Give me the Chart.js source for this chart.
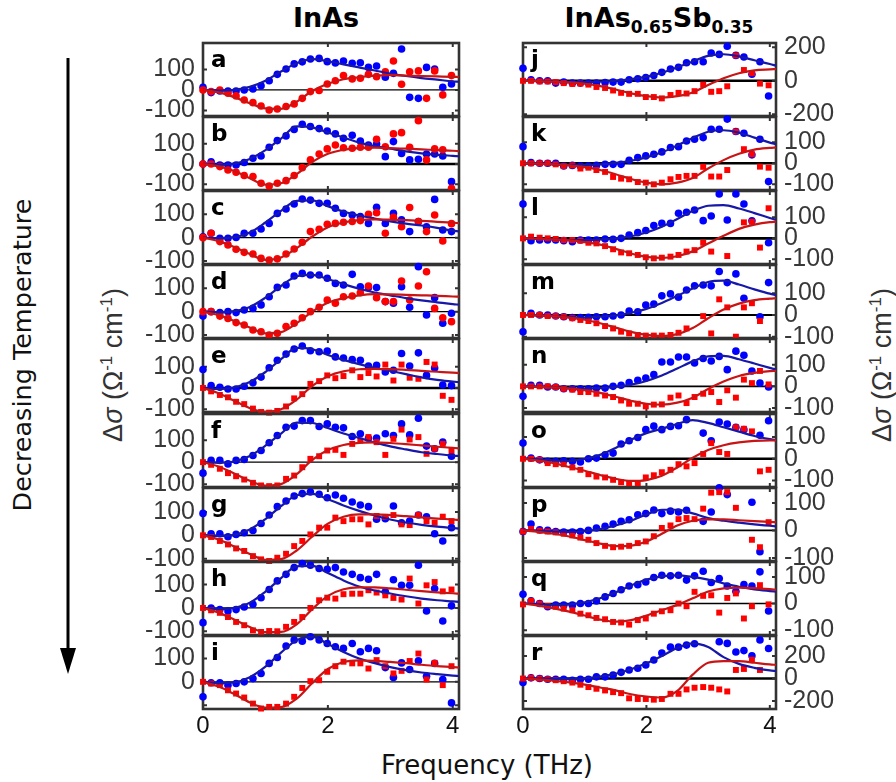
<!DOCTYPE html>
<html>
<head>
<meta charset="utf-8">
<script src="https://cdn.jsdelivr.net/npm/chart.js@4.4.1/dist/chart.umd.min.js"></script>
<style>
  html, body { margin:0; padding:0; background:#fff; }
  body { width:896px; height:782px; position:relative; overflow:hidden; }
  canvas { position:absolute; }
  .t { position:absolute; white-space:nowrap; line-height:1; }
  .letter { position:absolute; font-family:"DejaVu Sans"; font-weight:bold; font-size:23px; line-height:24px; color:#000; }
</style>
</head>
<body>
<svg style="position:absolute;left:0;top:0" width="896" height="782">
  <line x1="68" y1="58" x2="68" y2="652" stroke="#000" stroke-width="3"/>
  <polygon points="60,648 76,648 68,674" fill="#000"/>
</svg>
<div class="t" style="left:326px; top:17px; transform:translate(-50%,-50%); font:bold 27px 'DejaVu Sans'; color:#000;">InAs</div>
<div class="t" style="left:659px; top:17px; transform:translate(-50%,-50%); font:bold 27px 'DejaVu Sans'; color:#000;">InAs<span style="font-size:17px; position:relative; top:6px;">0.65</span>Sb<span style="font-size:17px; position:relative; top:6px;">0.35</span></div>
<div class="t" style="left:22px; top:355px; transform:translate(-50%,-50%) rotate(-90deg); font:25.5px 'DejaVu Sans'; color:#111;">Decreasing Temperature</div>
<div class="t" style="left:113px; top:365px; transform:translate(-50%,-50%) rotate(-90deg); font:27px 'Liberation Sans'; color:#333;">&Delta;<i>&sigma;</i> (&Omega;<sup style="font-size:17px">-1</sup> cm<sup style="font-size:17px">-1</sup>)</div>
<div class="t" style="left:882px; top:365px; transform:translate(-50%,-50%) rotate(-90deg); font:27px 'Liberation Sans'; color:#333;">&Delta;<i>&sigma;</i> (&Omega;<sup style="font-size:17px">-1</sup> cm<sup style="font-size:17px">-1</sup>)</div>
<div class="t" style="left:487px; top:765px; transform:translate(-50%,-50%); font:26px 'DejaVu Sans'; color:#111;">Frequency (THz)</div>

<script>
// ---------------- DATA ----------------
const freq = [0, 0.13, 0.27, 0.4, 0.53, 0.66, 0.8, 0.93, 1.06, 1.19, 1.33, 1.46, 1.59, 1.72, 1.86, 1.99, 2.12, 2.25, 2.39, 2.52, 2.65, 2.78, 2.92, 3.05, 3.18, 3.31, 3.45, 3.58, 3.71, 3.84, 3.98];
const fitFreq = [0, 0.25, 0.5, 0.75, 1, 1.25, 1.5, 1.75, 2, 2.25, 2.5, 2.75, 3, 3.25, 3.5, 3.75, 4, 4.1];
const xTicks = [0, 2, 4];
const ticks100 = [-100, 0, 100];
const ticks200 = [-200, 0, 200];
const panelLetters = ['a','b','c','d','e','f','g','h','i','j','k','l','m','n','o','p','q','r'];

// InAs
const a_blue = [13, -13, -5, -5, -5, 0, 5, 20, 45, 76, 102, 127, 137, 151, 154, 138, 132, 141, 130, 133, 110, 117, 62, 81, 200, -36, -41, 110, 102, 13, 29];
const a_red = [0, -8, 0, -16, -29, -49, -62, -78, -98, -93, -81, -68, -41, -8, -3, 29, 45, 70, 54, 57, 76, 65, 89, 141, 28, 89, 93, -41, 93, -24, 70];
const a_blueFit = [0, -3, 0, 15, 45, 90, 130, 150, 140, 125, 110, 95, 80, 68, 58, 50, 42, 40];
const a_redFit = [0, -12, -35, -65, -90, -92, -57, -5, 30, 52, 62, 70, 72, 70, 68, 66, 64, 63];

const b_blue = [0, 11, -5, -5, -5, 7, 28, 39, 82, 115, 138, 170, 195, 184, 174, 162, 148, 126, 141, 113, 93, 98, 36, 110, 52, 20, 23, 49, 49, 39, -87];
const b_red = [0, 0, -13, -30, -41, -57, -62, -95, -108, -95, -82, -57, -18, 20, 49, 74, 93, 80, 77, 82, 82, 121, 85, 148, 154, 82, 213, 20, 74, 70, -120];
const b_blueFit = [0, -3, 2, 25, 68, 125, 185, 180, 155, 130, 105, 88, 75, 62, 52, 45, 40, 38];
const b_redFit = [0, -12, -35, -70, -102, -95, -50, 10, 50, 70, 78, 80, 78, 75, 72, 68, 65, 63];

const c_blue = [4, 19, -3, -3, 1, 19, 19, 37, 61, 104, 123, 144, 166, 161, 147, 147, 126, 104, 97, 90, 61, 130, 61, 104, 76, 26, 69, 47, 164, 33, 26];
const c_red = [0, 19, -17, -31, -50, -63, -70, -89, -96, -91, -70, -49, -20, 26, 36, 57, 61, 66, 69, 73, 100, 107, 19, 87, 47, 129, 69, 26, 97, -14, 60];
const c_blueFit = [0, -3, 2, 22, 65, 115, 158, 160, 135, 112, 95, 82, 70, 60, 52, 42, 30, 27];
const c_redFit = [0, -15, -40, -70, -95, -85, -45, 5, 45, 65, 75, 78, 77, 75, 72, 68, 64, 62];

const d_blue = [-19, 0, -4, 0, -4, 7, 14, 29, 64, 104, 114, 153, 164, 157, 157, 143, 121, 114, 160, 107, 104, 103, 43, 36, 107, 19, 193, -14, 60, -50, -7];
const d_red = [0, 0, -19, -29, -47, -57, -79, -86, -100, -93, -64, -50, -26, 0, 19, 50, 36, 64, 67, 81, 110, 60, 43, 43, 131, 50, 110, 171, 14, -26, -43];
const d_blueFit = [0, -3, 2, 20, 60, 110, 152, 158, 140, 118, 98, 82, 70, 58, 48, 40, 32, 30];
const d_redFit = [0, -15, -40, -68, -93, -88, -50, 0, 38, 58, 70, 75, 74, 72, 70, 68, 65, 64];

const e_blue = [87, 11, 3, -5, -5, 8, 24, 51, 95, 130, 159, 183, 197, 175, 170, 173, 146, 141, 133, 130, 103, 106, 75, 83, 162, 103, 165, 59, 94, 14, 11];
const e_red = [0, -16, -33, -44, -65, -76, -97, -113, -116, -108, -87, -49, -29, 19, 32, 59, 46, 56, 83, 51, 70, 54, 110, 35, 110, 48, 43, 122, 110, -37, -56];
const e_blueFit = [0, -5, 2, 28, 75, 135, 188, 182, 155, 132, 112, 95, 80, 65, 50, 38, 30, 27];
const e_redFit = [0, -25, -60, -95, -112, -100, -55, 10, 55, 78, 88, 90, 88, 85, 80, 76, 72, 70];

const f_blue = [-50, 8, 8, -8, 8, 12, 30, 53, 88, 121, 159, 164, 189, 189, 162, 174, 159, 156, 117, 129, 109, 110, 129, 121, 174, 124, 200, 73, 61, 91, 27];
const f_red = [0, -12, -30, -50, -64, -79, -94, -106, -109, -106, -76, -61, -23, 15, 27, 53, 56, 33, 83, 98, 114, 91, 33, 106, 148, 103, 114, 38, 61, 83, 53];
const f_blueFit = [0, -3, 3, 28, 75, 130, 180, 178, 155, 130, 110, 90, 72, 58, 45, 37, 30, 28];
const f_redFit = [0, -20, -52, -85, -107, -100, -55, 10, 55, 78, 88, 90, 87, 82, 76, 70, 65, 63];

const g_blue = [94, 7, 7, -6, 4, 11, 21, 51, 87, 123, 147, 169, 179, 186, 176, 161, 173, 159, 143, 130, 123, 69, 71, 126, 54, 61, 87, 80, 7, -24, 33];
const g_red = [0, -7, -24, -39, -56, -67, -89, -103, -110, -96, -79, -46, -24, 4, 33, 33, 76, 61, 69, 69, 47, 83, 79, 87, 47, 44, 87, 61, 54, 80, 61];
const g_blueFit = [0, -3, 2, 25, 70, 125, 172, 178, 155, 128, 105, 85, 68, 55, 45, 37, 31, 29];
const g_redFit = [0, -18, -48, -80, -105, -102, -65, -5, 50, 80, 90, 90, 87, 82, 77, 72, 68, 66];

const h_blue = [-63, 0, -7, -13, -7, 4, 16, 44, 79, 116, 144, 173, 190, 183, 169, 166, 173, 154, 144, 130, 123, 144, 69, 121, 97, 97, 183, -13, 83, -56, 9];
const h_red = [0, -10, -21, -39, -60, -74, -96, -103, -99, -100, -81, -60, -39, 0, 33, 44, 40, 59, 61, 61, 76, 66, 54, 43, 36, 126, 19, 97, 111, 71, 79];
const h_blueFit = [0, -5, 0, 22, 70, 128, 178, 180, 150, 118, 92, 75, 62, 50, 40, 33, 28, 26];
const h_redFit = [0, -20, -50, -82, -104, -103, -70, -5, 52, 80, 88, 88, 84, 78, 72, 67, 63, 61];

const i_blue = [-64, -4, -4, -14, -7, 0, 14, 36, 79, 104, 153, 179, 174, 193, 179, 164, 150, 143, 164, 129, 143, 133, 61, 19, 81, 53, 90, 24, 79, 10, -90];
const i_red = [0, -7, -14, -36, -50, -67, -93, -114, -107, -107, -93, -64, -26, 3, 7, 43, 67, 86, 79, 79, 57, 93, 67, 36, 47, 89, 121, 10, 81, -14, 67];
const i_blueFit = [0, -5, -2, 20, 65, 125, 178, 192, 162, 128, 100, 80, 63, 50, 40, 33, 27, 25];
const i_redFit = [0, -20, -52, -88, -110, -108, -72, -5, 55, 85, 92, 90, 85, 80, 73, 67, 63, 61];

// InAs0.65Sb0.35
const j_blue = [74, 6, 0, 0, -14, -8, -14, -14, -14, -14, -10, -8, -8, 6, 12, 19, 31, 50, 70, 80, 107, 113, 113, 165, 157, 206, 151, 142, 39, 113, -91];
const j_red = [0, 0, -4, -4, -8, -14, -19, -17, -23, -37, -43, -58, -72, -78, -78, -97, -97, -105, -85, -72, -76, -62, -23, -66, -62, -33, 151, 64, 45, -17, -27];
const j_blueFit = [0, -2, -5, -8, -8, -5, 0, 10, 25, 48, 80, 115, 148, 158, 145, 122, 100, 90];
const j_redFit = [0, -2, -5, -10, -18, -32, -52, -75, -92, -100, -92, -70, -25, 15, 45, 62, 68, 70];

const k_blue = [79, 3, 0, 0, 0, -13, -10, -13, -13, -10, -5, -5, -5, 14, 27, 35, 43, 54, 75, 79, 106, 114, 122, 162, 162, 210, 151, 143, 40, 114, -87];
const k_red = [0, 0, 0, 0, -5, -13, -10, -25, -21, -32, -41, -65, -73, -76, -89, -92, -100, -92, -76, -65, -60, -60, -17, -63, -63, -32, 151, 67, 43, -16, -21];
const k_blueFit = [0, -2, -5, -8, -8, -5, 2, 12, 28, 52, 85, 120, 150, 157, 145, 122, 98, 90];
const k_redFit = [0, -2, -5, -10, -18, -32, -52, -75, -92, -100, -92, -70, -25, 15, 45, 65, 73, 75];

const l_blue = [163, -11, -8, -8, -8, -11, -16, -8, -8, -8, -3, -5, 0, 16, 27, 37, 61, 71, 71, 119, 124, 135, 84, 106, 211, 87, 211, 163, 83, null, -21];
const l_red = [0, 8, 3, 0, -3, -8, -8, -11, -21, -24, -37, -52, -67, -71, -79, -90, -95, -92, -87, -79, -63, -56, -21, -63, null, -84, null, 76, 79, -44, 143];
const l_blueFit = [0, -2, -5, -8, -8, -5, 0, 10, 28, 55, 92, 130, 155, 158, 142, 120, 97, 88];
const l_redFit = [0, -2, -5, -10, -18, -30, -50, -72, -88, -93, -85, -62, -25, 12, 45, 65, 77, 79];

const m_blue = [-77, 8, 0, 0, -5, -8, -12, -12, -11, -8, -8, -5, 0, 18, 15, 46, 50, 88, 97, 82, 115, 134, 138, 134, 200, 149, 189, 77, null, -8, 149];
const m_red = [0, 0, 0, -5, -5, -8, -15, -23, -28, -38, -51, -62, -77, -85, -92, -95, -95, -95, -92, -82, -62, null, -5, -85, 72, 35, -100, 35, 54, -28, null];
const m_blueFit = [0, -3, -6, -10, -12, -8, -2, 10, 28, 55, 88, 122, 152, 158, 140, 118, 98, 92];
const m_redFit = [0, -2, -6, -12, -22, -38, -58, -78, -92, -97, -88, -60, -15, 25, 52, 68, 75, 77];

const n_blue = [-46, 5, 5, -3, -3, -11, -11, -11, -11, -8, -8, 0, 5, 17, 28, 38, 54, 112, 112, 135, 135, 108, 128, 117, 138, 77, 162, 143, 71, 15, -3];
const n_red = [0, 0, 0, 0, -3, -11, -15, -26, -26, -34, -42, -49, -65, -80, -80, -92, -84, -83, -52, -42, -77, -49, -34, -26, -72, -18, -52, 31, 15, 71, 9];
const n_blueFit = [0, -2, -5, -8, -10, -8, -3, 8, 25, 50, 82, 115, 138, 140, 125, 105, 85, 77];
const n_redFit = [0, -2, -5, -10, -18, -30, -48, -66, -80, -84, -75, -52, -12, 22, 48, 62, 70, 71];

const o_blue = [72, 3, -5, -12, -12, -9, -12, -15, 0, 3, 18, 26, 68, 83, 98, 134, 150, 134, 149, 152, 180, null, 118, 83, 169, 160, 145, 134, null, 108, 175];
const o_red = [0, 0, -5, -20, -25, -25, -40, -51, -71, -82, -86, -97, -108, -112, -112, -86, -76, -62, -51, -25, -35, -20, 22, 72, 31, 22, 145, 138, 126, -58, -51];
const o_blueFit = [0, -3, -8, -10, 0, 18, 50, 88, 118, 138, 160, 178, 165, 145, 125, 105, 90, 85];
const o_redFit = [0, -8, -20, -38, -55, -75, -92, -102, -98, -78, -40, 5, 40, 62, 75, 82, 85, 85];

const p_blue = [-4, 23, 2, 0, -4, -6, -6, -4, 0, 9, 15, 23, 33, 39, 57, 61, 74, 61, 70, 67, 73, null, 33, 67, 155, 130, null, null, 102, -77, null];
const p_red = [-4, 5, -1, -4, -7, -12, -18, -26, -34, -46, -56, -61, -59, -56, -46, -40, -21, 9, 18, 41, 45, 41, 79, 137, 139, 139, 82, null, -34, -61, 30];
const p_blueFit = [0, -2, -4, -5, -3, 5, 18, 35, 58, 75, 75, 62, 45, 35, 28, 22, 17, 15];
const p_redFit = [0, -5, -12, -22, -35, -48, -57, -55, -40, -12, 18, 35, 40, 40, 37, 34, 31, 30];

const q_blue = [35, 10, 0, -12, -6, -6, -6, 0, 0, 10, 25, 38, 52, 66, 71, 81, 98, 106, 104, 106, 88, 104, 121, 79, 94, 66, 46, 71, 66, 119, -28];
const q_red = [-3, 10, 0, -9, -12, -19, -25, -38, -44, -54, -59, -69, -71, -79, -62, -56, -38, -29, -25, 0, -10, 44, 29, 31, -34, 21, 38, -56, -10, 69, -3];
const q_blueFit = [0, -3, -5, -3, 5, 20, 42, 68, 90, 102, 106, 100, 90, 76, 63, 53, 47, 45];
const q_redFit = [0, -8, -18, -30, -45, -60, -68, -62, -45, -25, -5, 20, 45, 57, 60, 58, 54, 52];

const r_blue = [-36, 6, 0, -6, -6, -6, -15, -6, -6, 15, 15, 30, 55, 76, 91, 121, 164, 227, 279, 279, 297, 309, null, null, 327, 312, 236, 248, 203, 342, 267];
const r_red = [0, 6, 0, -6, -15, -24, -36, -55, -76, -91, -106, -121, -130, -176, -182, -182, -188, -182, -136, -136, -97, -82, -76, -82, -97, -115, 76, 85, 167, 76, null];
const r_blueFit = [0, 0, -3, -4, 0, 18, 42, 82, 135, 200, 272, 312, 280, 190, 130, 95, 72, 67];
const r_redFit = [0, -8, -20, -35, -55, -80, -105, -140, -160, -170, -110, 35, 140, 155, 155, 140, 125, 121];

const series = {
  a:[a_blue,a_red,a_blueFit,a_redFit], b:[b_blue,b_red,b_blueFit,b_redFit], c:[c_blue,c_red,c_blueFit,c_redFit],
  d:[d_blue,d_red,d_blueFit,d_redFit], e:[e_blue,e_red,e_blueFit,e_redFit], f:[f_blue,f_red,f_blueFit,f_redFit],
  g:[g_blue,g_red,g_blueFit,g_redFit], h:[h_blue,h_red,h_blueFit,h_redFit], i:[i_blue,i_red,i_blueFit,i_redFit],
  j:[j_blue,j_red,j_blueFit,j_redFit], k:[k_blue,k_red,k_blueFit,k_redFit], l:[l_blue,l_red,l_blueFit,l_redFit],
  m:[m_blue,m_red,m_blueFit,m_redFit], n:[n_blue,n_red,n_blueFit,n_redFit], o:[o_blue,o_red,o_blueFit,o_redFit],
  p:[p_blue,p_red,p_blueFit,p_redFit], q:[q_blue,q_red,q_blueFit,q_redFit], r:[r_blue,r_red,r_blueFit,r_redFit]
};

// ---------------- LAYOUT ----------------
const axisCfg = {
  a:{yMin:-127,yMax:229,ticks:ticks100,zero:1.3,shape:'circle'},
  b:{yMin:-128,yMax:231,ticks:ticks100,zero:2.6,shape:'circle'},
  c:{yMin:-113,yMax:200,ticks:ticks100,zero:1.3,shape:'circle'},
  d:{yMin:-113,yMax:200,ticks:ticks100,zero:1.3,shape:'circle'},
  e:{yMin:-113,yMax:230,ticks:ticks100,zero:2.6,shape:'rect'},
  f:{yMin:-113,yMax:219,ticks:ticks100,zero:1.3,shape:'rect'},
  g:{yMin:-110,yMax:203,ticks:ticks100,zero:1.8,shape:'rect'},
  h:{yMin:-116,yMax:197,ticks:ticks100,zero:1.3,shape:'rect'},
  i:{yMin:-116,yMax:196,ticks:ticks100,zero:1.3,shape:'rect',hideNeg:true},
  j:{yMin:-210,yMax:225,ticks:ticks200,zero:2.6,shape:'rect'},
  k:{yMin:-127,yMax:220,ticks:ticks100,zero:2.6,shape:'rect'},
  l:{yMin:-122,yMax:225,ticks:ticks100,zero:2.6,shape:'rect'},
  m:{yMin:-106,yMax:230,ticks:ticks100,zero:2.0,shape:'rect'},
  n:{yMin:-118,yMax:218,ticks:ticks100,zero:1.6,shape:'rect'},
  o:{yMin:-130,yMax:206,ticks:ticks100,zero:2.6,shape:'rect'},
  p:{yMin:-111,yMax:154,ticks:ticks100,zero:1.6,shape:'rect'},
  q:{yMin:-118,yMax:156,ticks:ticks100,zero:1.6,shape:'rect'},
  r:{yMin:-271,yMax:378,ticks:ticks200,zero:2.6,shape:'rect'}
};

const LEFT_X0 = 203, LEFT_X1 = 459, RIGHT_X0 = 523, RIGHT_X1 = 776;
const TOP0 = 43, STEP = 74.1, PH = 73;
const AXW = 74, PAD = 30, SIDE = 14, XAH = 34;
const TICKFONT = {family:'Liberation Sans', size:25};

const framePlugin = {
  id: 'frame',
  beforeDatasetsDraw(chart) {
    const o = chart.options.plugins.frame;
    const {ctx, chartArea: ar, scales} = chart;
    const x = scales.x, y = scales.y;
    ctx.save();
    const y0 = y.getPixelForValue(0);
    ctx.strokeStyle = '#000';
    ctx.lineWidth = o.zero;
    ctx.beginPath(); ctx.moveTo(ar.left, y0); ctx.lineTo(ar.right, y0); ctx.stroke();
    ctx.strokeStyle = '#333';
    ctx.lineWidth = 2;
    ctx.beginPath();
    for (const v of o.yTicks) {
      const py = y.getPixelForValue(v);
      ctx.moveTo(ar.left, py); ctx.lineTo(ar.left + 4, py);
      ctx.moveTo(ar.right, py); ctx.lineTo(ar.right - 4, py);
    }
    for (const v of xTicks) {
      const px = x.getPixelForValue(v);
      ctx.moveTo(px, ar.top); ctx.lineTo(px, ar.top + 4);
      ctx.moveTo(px, ar.bottom); ctx.lineTo(px, ar.bottom - 4);
    }
    ctx.stroke();
    ctx.lineWidth = 2.6;
    ctx.strokeStyle = '#333';
    ctx.strokeRect(ar.left, ar.top, ar.right - ar.left, ar.bottom - ar.top);
    ctx.restore();
  }
};

function pts(xs, ys) { return xs.map((x, i) => ({x: x, y: ys[i]})); }

panelLetters.forEach((L, idx) => {
  const isLeft = idx < 9;
  const row = isLeft ? idx : idx - 9;
  const cfg = axisCfg[L];
  const [blue, red, blueFit, redFit] = series[L];
  const top = Math.round(TOP0 + STEP * row);
  const x0 = isLeft ? LEFT_X0 : RIGHT_X0, x1 = isLeft ? LEFT_X1 : RIGHT_X1;
  const bottomAxis = row === 8;
  const cw = AXW + (x1 - x0) + SIDE;
  const ch = PAD + PH + (bottomAxis ? XAH : 0) + PAD;
  const cl = isLeft ? x0 - AXW : x0 - SIDE;
  const ct = top - PAD;

  const cv = document.createElement('canvas');
  cv.width = cw; cv.height = ch;
  cv.style.left = cl + 'px'; cv.style.top = ct + 'px';
  cv.style.width = cw + 'px'; cv.style.height = ch + 'px';
  document.body.appendChild(cv);

  const letter = document.createElement('div');
  letter.className = 'letter';
  letter.textContent = L;
  letter.style.left = (x0 + 8) + 'px';
  letter.style.top = (top + 4) + 'px';
  document.body.appendChild(letter);

  const xScale = {
    type: 'linear', min: 0, max: 4.1,
    display: bottomAxis,
    grid: {display:false, drawTicks:false},
    border: {display:false},
    ticks: {font: {family:'Liberation Sans', size:24}, color:'#111', padding: 3, maxRotation: 0},
    afterBuildTicks: s => { s.ticks = xTicks.map(v => ({value: v})); }
  };
  if (bottomAxis) xScale.afterFit = s => { s.height = XAH; };

  new Chart(cv, {
    type: 'scatter',
    data: {
      datasets: [
        {data: pts(fitFreq, redFit), showLine: true, borderColor: '#c81414', borderWidth: 2.2, pointRadius: 0, cubicInterpolationMode: 'monotone', clip: false},
        {data: pts(fitFreq, blueFit), showLine: true, borderColor: '#1717a8', borderWidth: 2.2, pointRadius: 0, cubicInterpolationMode: 'monotone', clip: false},
        {data: pts(freq, red), pointStyle: cfg.shape, pointRadius: cfg.shape === 'rect' ? 4.2 : 3.8, backgroundColor: '#ff0000', borderWidth: 0, clip: false},
        {data: pts(freq, blue), pointStyle: 'circle', pointRadius: 3.8, backgroundColor: '#0000ff', borderWidth: 0, clip: false}
      ]
    },
    options: {
      responsive: false,
      maintainAspectRatio: false,
      animation: false,
      devicePixelRatio: 1,
      events: [],
      layout: {padding: isLeft ? {left:0, right:SIDE, top:PAD, bottom:PAD} : {left:SIDE, right:0, top:PAD, bottom:PAD}},
      plugins: {legend: {display:false}, tooltip: {enabled:false}, frame: {zero: cfg.zero, yTicks: cfg.ticks}},
      scales: {
        x: xScale,
        y: {
          type: 'linear', min: cfg.yMin, max: cfg.yMax,
          position: isLeft ? 'left' : 'right',
          grid: {display:false, drawTicks:false},
          border: {display:false},
          ticks: {font: TICKFONT, color:'#383838', padding: 8,
                  callback: v => (cfg.hideNeg && v < 0) ? '' : String(v)},
          afterBuildTicks: s => { s.ticks = cfg.ticks.map(v => ({value: v})); },
          afterFit: s => { s.width = AXW; }
        }
      }
    },
    plugins: [framePlugin]
  });
});
</script>
</body>
</html>
